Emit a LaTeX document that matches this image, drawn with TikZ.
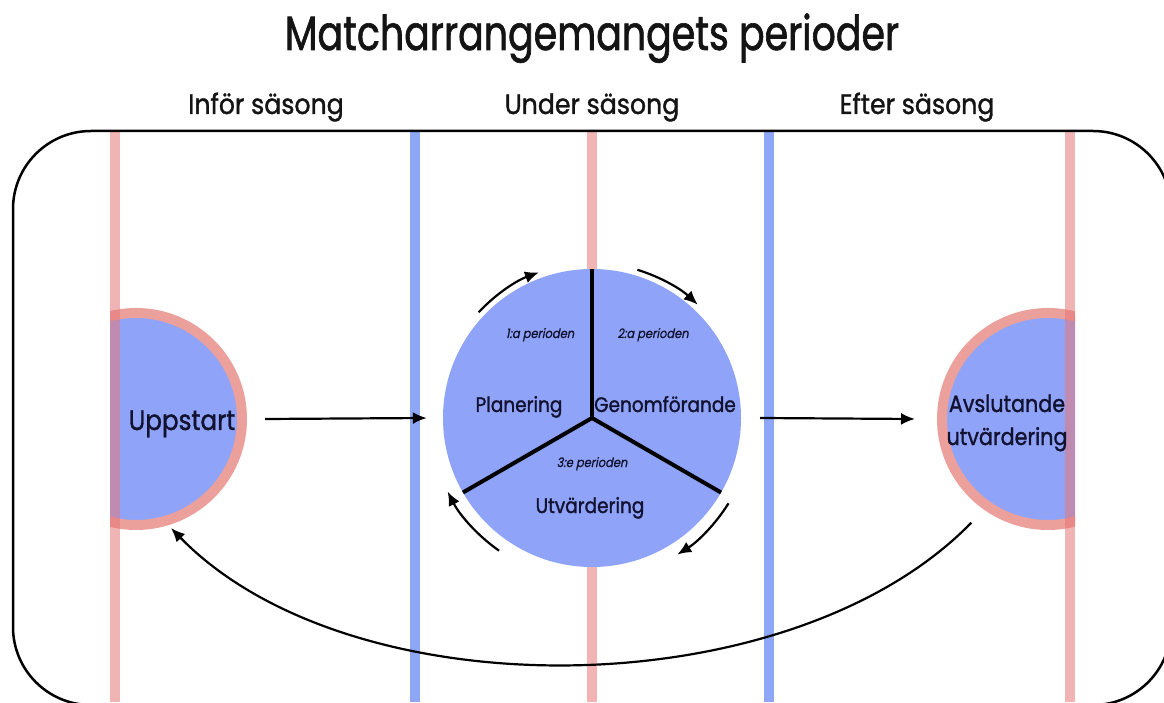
\documentclass[tikz,border=0pt]{standalone}
\usepackage{fontspec}
\setmainfont[FakeStretch=0.88,FakeBold=1.3]{Poppins}
\newfontfamily\titlefont[FakeStretch=0.79,FakeBold=1.3]{Poppins}
\newfontfamily\hdrfont[FakeStretch=0.9,FakeBold=1.3]{Poppins}
\newfontfamily\oblfont[FakeStretch=0.88,FakeSlant=0.2,FakeBold=0.8]{Poppins}
\usetikzlibrary{arrows.meta}
\definecolor{fillblue}{RGB}{143,164,248}
\definecolor{lineblue}{RGB}{141,166,246}
\definecolor{ringpink}{RGB}{236,160,156}
\definecolor{goalred}{RGB}{231,119,119}
\definecolor{navy}{RGB}{18,18,48}
\definecolor{ink}{RGB}{20,20,20}
\begin{document}
\begin{tikzpicture}[x=1pt,y=1pt,
  rinkline/.style={line width=10pt},
  redline/.style={rinkline, draw=goalred, draw opacity=0.55},
  blueline/.style={rinkline, draw=lineblue},
  facecircle/.style={circle, fill=fillblue, draw=ringpink, line width=10pt, minimum size=212pt, inner sep=0pt},
  hdr/.style={text=ink, font=\hdrfont\fontsize{28}{32}\selectfont, anchor=base},
  big/.style={text=navy, font=\fontsize{28}{32}\selectfont, anchor=base},
  mid/.style={text=navy, font=\fontsize{21}{25}\selectfont, anchor=base},
  small/.style={text=navy, font=\oblfont\fontsize{13}{15}\selectfont, anchor=base},
  arr/.style={line width=2.2pt, -{Latex[length=14pt,width=12pt]}},
  sep/.style={line width=4pt, draw=black}
]
\useasboundingbox (0,0) rectangle (1164,702);
\fill[white] (0,0) rectangle (1164,702);

% side circles (clipped by goal lines)
\begin{scope}
  \clip (110,0) rectangle (400,702);
  \node[facecircle] (lc) at (136,283) {};
\end{scope}
\begin{scope}
  \clip (700,0) rectangle (1075,702);
  \node[facecircle] (rc) at (1048,283) {};
\end{scope}

% rink lines
\draw[redline] (115,571) -- (115,0);
\draw[redline] (592,571) -- (592,0);
\draw[redline] (1070,571) -- (1070,0);
\draw[blueline] (415,571) -- (415,0);
\draw[blueline] (769,571) -- (769,0);

% rink border
\draw[line width=2.5pt, rounded corners=78pt] (13,-3) rectangle (1171,571);

% center circle
\node[circle, fill=fillblue, minimum size=298pt, inner sep=0pt] (mc) at (592,284) {};
\draw[sep] (mc.center) -- ([shift={(90:149)}]mc.center);
\draw[sep] (mc.center) -- ([shift={(210:149)}]mc.center);
\draw[sep] (mc.center) -- ([shift={(330:149)}]mc.center);

% texts
\node[anchor=base, text=ink, font=\titlefont\fontsize{48}{54}\selectfont] (title) at (592,652) {Matcharrangemangets perioder};
\node[hdr] (h1) at (266,588) {Inför säsong};
\node[hdr] (h2) at (592,588) {Under säsong};
\node[hdr] (h3) at (917,588) {Efter säsong};

\node[big] (upp) at (182,272) {Uppstart};
\node[mid, font=\fontsize{23.5}{27}\selectfont] (avs1) at (1007,290) {Avslutande};
\node[mid, font=\fontsize{23.5}{27}\selectfont] (avs2) at (1007,257) {utvärdering};

\node[mid] (plan) at (519,290) {Planering};
\node[mid] (gen) at (665,290) {Genomförande};
\node[mid] (utv) at (590,189) {Utvärdering};
\node[small] (p1) at (540,364) {1:a perioden};
\node[small] (p2) at (653,364) {2:a perioden};
\node[small] (p3) at (592,235) {3:e perioden};

% arrows
\draw[arr] ([xshift=18pt]lc.east) -- ([xshift=-16pt]mc.west);
\draw[arr] ([xshift=19pt]mc.east) -- ([xshift=-22pt]rc.west);

\draw[arr] ([shift={(137:155)}]mc.center) arc[start angle=137, end angle=110, radius=155];
\draw[arr] ([shift={(73:155)}]mc.center) arc[start angle=73, end angle=47, radius=155];
\draw[arr] ([shift={(-32:161)}]mc.center) arc[start angle=-32, end angle=-58, radius=161];
\draw[arr] ([shift={(235:162)}]mc.center) arc[start angle=235, end angle=207, radius=162];

\draw[arr] ([shift={(-126.5:129)}]rc.center) .. controls (791,-6) and (351,-11) .. ([shift={(-72.2:114.5)}]lc.center);
\end{tikzpicture}
\end{document}
